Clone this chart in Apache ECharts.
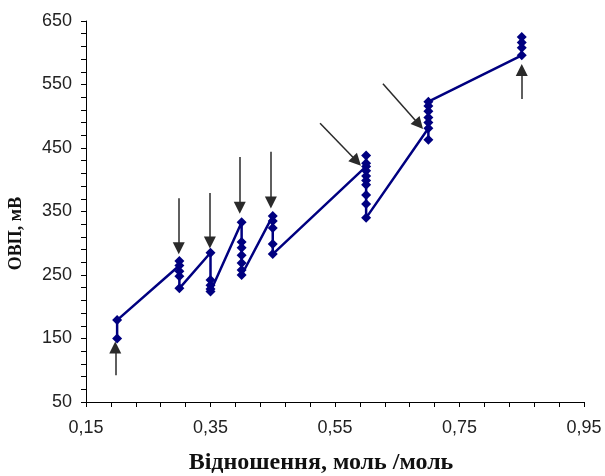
<!DOCTYPE html>
<html>
<head>
<meta charset="utf-8">
<script src="https://cdn.jsdelivr.net/npm/echarts@6/dist/echarts.min.js"></script>
<style>html,body{margin:0;padding:0;background:#fff}#c{width:605px;height:476px}</style>
</head>
<body>
<div id="c"></div>
<script>
// ratio (mol/mol) and ORP (mV), in measurement order
const ratioX = [0.2,0.2,
  0.3,0.3,0.3,0.3,0.3,
  0.35,0.35,0.35,0.35,0.35,
  0.4,0.4,0.4,0.4,0.4,0.4,0.4,
  0.45,0.45,0.45,0.45,0.45,
  0.6,0.6,0.6,0.6,0.6,0.6,0.6,0.6,0.6,0.6,
  0.7,0.7,0.7,0.7,0.7,0.7,0.7,
  0.85,0.85,0.85,0.85];
const orpY = [150,179,
  265,272,256,248,229,
  285,242,234,228,224,
  333,302,293,281,269,258,250,
  343,335,324,299,283,
  421,438,426,414,406,399,392,376,362,340,
  481,463,490,498,508,516,523,
  596,608,616,625];
// arrows: [x1, y1, x2(tip), y2(tip)] in data units
const arrows = [
  [0.197, 92, 0.197, 136],
  [0.299, 371, 0.299, 292],
  [0.349, 379, 0.349, 301],
  [0.397, 436, 0.397, 356],
  [0.447, 444, 0.447, 364],
  [0.526, 489, 0.585, 429],
  [0.627, 551, 0.685, 487],
  [0.850, 527, 0.850, 573]
];
const xLabelValues = [0.15,0.35,0.55,0.75,0.95];
const xTickValues = [0.15,0.19,0.23,0.27,0.31,0.35,0.39,0.43,0.47,0.51,0.55,0.59,0.63,0.67,0.71,0.75,0.79,0.83,0.87,0.91,0.95];
const yLabelValues = [50,150,250,350,450,550,650];
const yTickValues = [50,70,90,110,130,150,170,190,210,230,250,270,290,310,330,350,370,390,410,430,450,470,490,510,530,550,570,590,610,630,650];

const chart = echarts.init(document.getElementById('c'));
const axisLine = {show:true, lineStyle:{color:'#000', width:1}};
chart.setOption({
  animation:false,
  backgroundColor:'#fff',
  grid:{left:86, right:21, top:21, bottom:74, outerBoundsMode:'none', containLabel:false},
  xAxis:{
    type:'value', min:0.15, max:0.95,
    axisLine: axisLine,
    splitLine:{show:false},
    axisTick:{show:true, customValues:xTickValues, length:5, lineStyle:{color:'#000'}},
    axisLabel:{customValues:xLabelValues, margin:17, fontFamily:'Liberation Sans', fontSize:18, color:'#222',
      formatter:v=>v.toFixed(2).replace('.',',')},
    name:'Відношення, моль /моль', nameLocation:'middle', nameGap:49,
    nameTextStyle:{fontFamily:'Liberation Serif', fontWeight:'bold', fontSize:24, color:'#111', padding:[0,28,0,0]}
  },
  yAxis:{
    type:'value', min:50, max:650,
    axisLine: axisLine,
    splitLine:{show:false},
    axisTick:{show:true, customValues:yTickValues, length:5, lineStyle:{color:'#000'}},
    axisLabel:{customValues:yLabelValues, margin:14, fontFamily:'Liberation Sans', fontSize:18, color:'#222'},
    name:'ОВП, мВ', nameLocation:'middle', nameGap:61, nameRotate:90,
    nameTextStyle:{fontFamily:'Liberation Serif', fontWeight:'bold', fontSize:18, color:'#111', padding:[0,44,0,0]}
  },
  series:[{
    type:'line',
    data: ratioX.map((x,i)=>[x, orpY[i]]),
    symbol:'diamond', symbolSize:10,
    lineStyle:{color:'#000080', width:2.5},
    itemStyle:{color:'#000080'},
    z:3,
    markLine:{
      silent:true, animation:false,
      symbol:['none','triangle'], symbolSize:12,
      lineStyle:{color:'#2a2a2a', width:1.5, type:'solid'},
      label:{show:false},
      emphasis:{disabled:true},
      data: arrows.map(a=>[{coord:[a[0],a[1]]},{coord:[a[2],a[3]]}])
    }
  }]
});
</script>
</body>
</html>
